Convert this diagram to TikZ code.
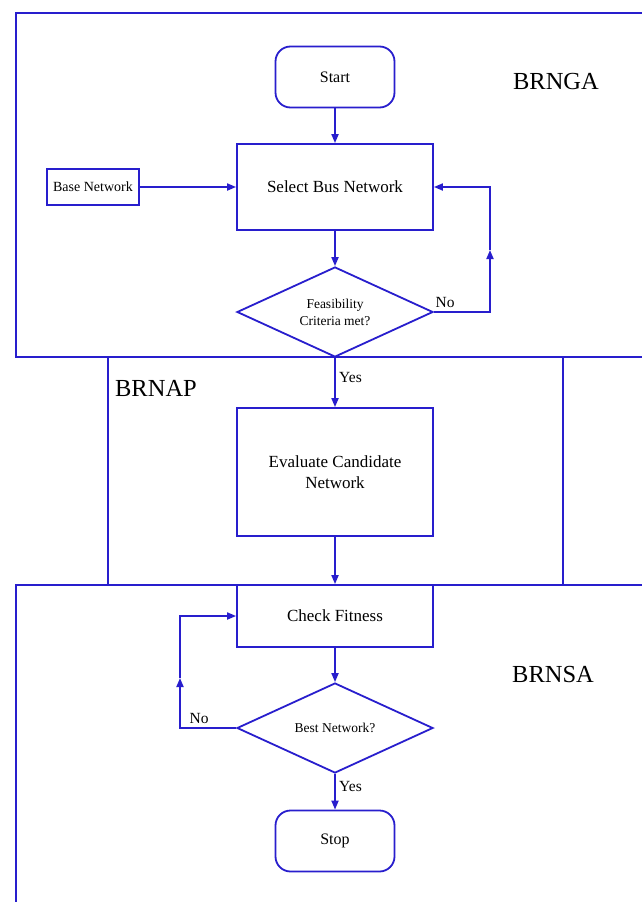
\documentclass[tikz,border=0pt]{standalone}
\usepackage{fontspec}
\setmainfont{Liberation Serif}
\usetikzlibrary{shapes.geometric,arrows.meta}
\definecolor{flowblue}{RGB}{40,30,205}
\begin{document}
\begin{tikzpicture}[x=1pt,y=-1pt,
  frame/.style={draw=flowblue,line width=1.6pt},
  procbox/.style={draw=flowblue,line width=1.8pt,minimum width=196pt,align=center,inner sep=2pt,font=\fontsize{17}{21}\selectfont},
  termbox/.style={draw=flowblue,line width=1.8pt,rounded corners=15pt,minimum width=119pt,minimum height=61pt,font=\fontsize{16}{19}\selectfont},
  inbox/.style={draw=flowblue,line width=1.8pt,minimum width=92pt,minimum height=36pt,inner sep=1pt,font=\fontsize{14}{17}\selectfont},
  decision/.style={draw=flowblue,line width=1.8pt,diamond,aspect=2.2,minimum width=196pt,minimum height=90pt,inner sep=1pt,align=center,font=\fontsize{13.5}{17}\selectfont},
  link/.style={draw=flowblue,line width=1.8pt,-{Triangle[length=9pt,width=7pt]}},
  tag/.style={font=\fontsize{15.5}{18}\selectfont},
  region/.style={font=\fontsize{24.5}{28}\selectfont}
]
% page
\fill[white] (0,0) rectangle (641,902);
\useasboundingbox (0,0) rectangle (641,902);

% stage frames
\draw[frame] (645,13) -- (16,13) -- (16,357) -- (645,357);
\draw[frame] (108,357) -- (108,585);
\draw[frame] (563,357) -- (563,585);
\draw[frame] (645,585) -- (16,585) -- (16,906);

% stage titles
\node[region] (brnga) at (556,82) {BRNGA};
\node[region] (brnap) at (156,388) {BRNAP};
\node[region] (brnsa) at (553,674) {BRNSA};

% flow nodes
\node[termbox] (start) at (335,77) {Start};
\node[procbox,minimum height=86pt] (select) at (335,187) {Select Bus Network};
\node[inbox] (base) at (93,187) {Base Network};
\node[decision] (feas) at (335,312) {Feasibility\\Criteria met?};
\node[procbox,minimum height=128pt] (eval) at (335,472) {Evaluate Candidate\\Network};
\node[procbox,minimum height=62pt] (check) at (335,616) {Check Fitness};
\node[decision] (best) at (335,728) {Best Network?};
\node[termbox] (stop) at (335,841) {Stop};

% loop-back turning points
\coordinate (feasup) at (490,250);
\coordinate (bestup) at (180,678);

% connectors
\draw[link] (start) -- (select);
\draw[link] (base) -- (select);
\draw[link] (select) -- (feas);
\draw[link] (feas.east) -| node[tag,pos=0.1,above] {No} (feasup);
\draw[link] (feasup) |- (select.east);
\draw[link] (feas) -- node[tag,pos=0.4,right] {Yes} (eval);
\draw[link] (eval) -- (check);
\draw[link] (check) -- (best);
\draw[link] (best.west) -| node[tag,pos=0.33,above] {No} (bestup);
\draw[link] (bestup) |- (check.west);
\draw[link] (best) -- node[tag,pos=0.35,right] {Yes} (stop);
\end{tikzpicture}
\end{document}
